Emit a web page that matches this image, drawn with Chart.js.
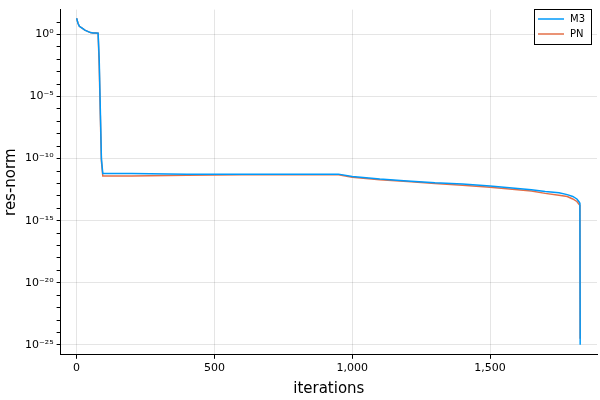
<!DOCTYPE html>
<html><head><meta charset="utf-8">
<script src="https://cdn.jsdelivr.net/npm/chart.js@4/dist/chart.umd.min.js"></script>
<style>html,body{margin:0;background:#fff}#wrap{width:600px;height:400px}</style>
</head><body><div id="wrap"><canvas id="c"></canvas></div>
<script>
const iterM3 = [0, 5, 10, 20, 30, 40, 50, 60, 70, 78, 82, 86, 90, 95, 100, 200, 400, 600, 800, 950, 1000, 1100, 1200, 1300, 1400, 1500, 1600, 1650, 1700, 1750, 1780, 1800, 1815, 1822, 1826, 1827];
const resM3  = [1.3, 0.9, 0.65, 0.5, 0.35, 0.25, 0.15, 0.12, 0.12, 0.1, -2, -6, -10, -11.2, -11.2, -11.2, -11.25, -11.25, -11.25, -11.25, -11.45, -11.65, -11.8, -11.95, -12.05, -12.2, -12.4, -12.5, -12.65, -12.75, -12.9, -13.05, -13.25, -13.45, -13.6, -25];
const iterPN = [0, 5, 10, 20, 30, 40, 50, 60, 70, 78, 82, 86, 90, 95, 100, 200, 400, 600, 800, 950, 1000, 1100, 1200, 1300, 1400, 1500, 1600, 1650, 1700, 1750, 1780, 1800, 1815, 1822, 1826, 1827];
const resPN  = [1.3, 0.9, 0.65, 0.5, 0.35, 0.25, 0.15, 0.12, 0.12, 0.1, -2.5, -6.5, -10.2, -11.4, -11.4, -11.4, -11.35, -11.3, -11.3, -11.3, -11.5, -11.7, -11.85, -12.0, -12.15, -12.3, -12.5, -12.6, -12.8, -12.95, -13.05, -13.25, -13.45, -13.65, -13.75, -24.5];
const xTicks = [0, 500, 1000, 1500];
const seriesNames = ['M3', 'PN'];
const colors = ['#009AFA', '#E36F47'];

const sup = {'0':'⁰','1':'¹','2':'²','3':'³','4':'⁴','5':'⁵','6':'⁶','7':'⁷','8':'⁸','9':'⁹','-':'⁻'};
const pow10 = e => '10' + String(e).split('').map(c => sup[c]).join('');
const pts = (xs, es) => xs.map((x, i) => ({ x, y: Math.pow(10, es[i]) }));

const legendBox = {
  id: 'legendBox',
  afterDraw(chart) {
    const ctx = chart.ctx, x = 534, y = 9, w = 57, h = 35;
    ctx.save();
    ctx.fillStyle = '#fff'; ctx.strokeStyle = '#000'; ctx.lineWidth = 1;
    ctx.fillRect(x + .5, y + .5, w, h); ctx.strokeRect(x + .5, y + .5, w, h);
    ctx.font = '10px "DejaVu Sans"'; ctx.textBaseline = 'middle';
    seriesNames.forEach((n, i) => {
      const yy = y + 10 + i * 15;
      ctx.strokeStyle = colors[i]; ctx.lineWidth = 1.5;
      ctx.beginPath(); ctx.moveTo(x + 4, yy); ctx.lineTo(x + 30, yy); ctx.stroke();
      ctx.fillStyle = '#000'; ctx.fillText(n, x + 36, yy);
    });
    ctx.restore();
  }
};

new Chart(document.getElementById('c'), {
  type: 'line',
  data: {
    datasets: [
      { label: seriesNames[0], data: pts(iterM3, resM3), borderColor: colors[0], borderWidth: 1.5, pointRadius: 0, tension: 0 },
      { label: seriesNames[1], data: pts(iterPN, resPN), borderColor: colors[1], borderWidth: 1.5, pointRadius: 0, tension: 0 },
    ],
  },
  plugins: [legendBox],
  options: {
    responsive: true, maintainAspectRatio: false, animation: false,
    layout: { padding: { top: 5, right: 3, left: 0, bottom: 0 } },
    plugins: { legend: { display: false }, tooltip: { enabled: false } },
    scales: {
      x: {
        type: 'linear', min: -58, max: 1888,
        afterBuildTicks: s => { s.ticks = xTicks.map(v => ({ value: v })); },
        ticks: { color: '#000', font: { size: 11, family: 'DejaVu Sans' }, maxRotation: 0 },
        grid: { color: 'rgba(0,0,0,0.1)', tickColor: '#000', tickLength: 4 },
        border: { color: '#000', width: 1 },
        title: { display: true, text: 'iterations', color: '#000', font: { size: 15, family: 'DejaVu Sans' }, padding: 2 },
      },
      y: {
        type: 'logarithmic', min: Math.pow(10, -25.8), max: 100,
        afterBuildTicks: s => { s.ticks = []; for (let e = 1; e >= -25; e--) s.ticks.push({ value: Math.pow(10, e) }); },
        ticks: {
          color: '#000', font: { size: 11, family: 'DejaVu Sans' }, autoSkip: false,
          callback: v => { const e = Math.round(Math.log10(v)); return e % 5 === 0 ? pow10(e) : ''; },
        },
        grid: {
          color: c => { const e = Math.round(Math.log10(c.tick.value)); return e % 5 === 0 ? 'rgba(0,0,0,0.1)' : 'rgba(0,0,0,0)'; },
          tickColor: '#000', tickLength: 4,
        },
        border: { color: '#000', width: 1 },
        title: { display: true, text: 'res-norm', color: '#000', font: { size: 15, family: 'DejaVu Sans' }, padding: 2 },
      },
    },
  },
});
</script></body></html>
